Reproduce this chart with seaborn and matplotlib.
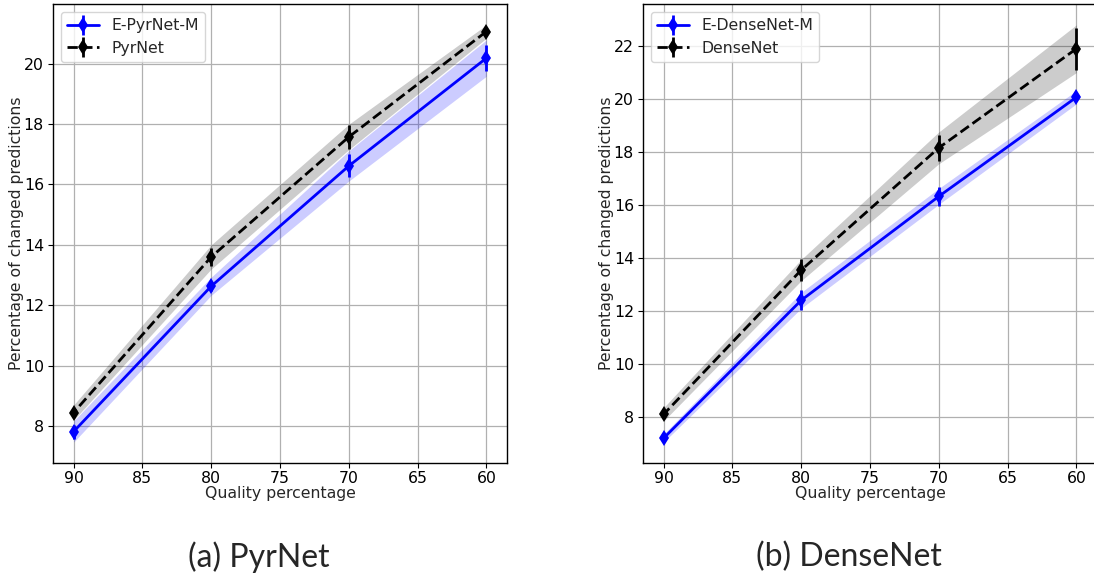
import numpy as np
import pandas as pd
import matplotlib
matplotlib.use("Agg")
import matplotlib.pyplot as plt
from matplotlib.legend_handler import HandlerTuple
from matplotlib.lines import Line2D
import seaborn as sns

# ---- data ----
quality = [90, 80, 70, 60]

pyr_e_mean = [7.82, 12.63, 16.61, 20.18]
pyr_e_err = [0.23, 0.15, 0.38, 0.44]
pyr_e_band = [0.35, 0.30, 0.50, 0.60]
pyr_mean = [8.45, 13.60, 17.57, 21.06]
pyr_err = [0.15, 0.30, 0.39, 0.12]
pyr_band = [0.25, 0.40, 0.42, 0.22]

den_e_mean = [7.22, 12.42, 16.34, 20.08]
den_e_err = [0.12, 0.38, 0.35, 0.12]
den_e_band = [0.15, 0.30, 0.30, 0.25]
den_mean = [8.12, 13.56, 18.17, 21.91]
den_err = [0.15, 0.42, 0.50, 0.80]
den_band = [0.25, 0.40, 0.60, 0.90]

panels = [
    ("E-PyrNet-M", pyr_e_mean, pyr_e_err, pyr_e_band,
     "PyrNet", pyr_mean, pyr_err, pyr_band, "(a) PyrNet"),
    ("E-DenseNet-M", den_e_mean, den_e_err, den_e_band,
     "DenseNet", den_mean, den_err, den_band, "(b) DenseNet"),
]

sns.set_style("ticks")
plt.rcParams["font.family"] = ["DejaVu Sans"]

fig = plt.figure(figsize=(10.94, 5.79), dpi=100)
axes_pos = [
    [53 / 1094, 1 - 463 / 579, 454 / 1094, 459 / 579],
    [643 / 1094, 1 - 463 / 579, 454 / 1094, 459 / 579],
]
caption_x = [259 / 1094, 849 / 1094]
FS = 11.3

for pos, cx, (lab1, m1, e1, b1, lab2, m2, e2, b2, cap) in zip(axes_pos, caption_x, panels):
    ax = fig.add_axes(pos)
    x = np.array(quality)
    m1a, e1a, b1a = map(np.array, (m1, e1, b1))
    m2a, e2a, b2a = map(np.array, (m2, e2, b2))

    ax.fill_between(x, m1a - b1a, m1a + b1a, color="blue", alpha=0.2, lw=0, zorder=1)
    ax.fill_between(x, m2a - b2a, m2a + b2a, color="black", alpha=0.2, lw=0, zorder=1)

    df1 = pd.DataFrame({"q": quality, "v": m1})
    df2 = pd.DataFrame({"q": quality, "v": m2})
    sns.lineplot(data=df1, x="q", y="v", ax=ax, color="blue", lw=2,
                 marker="d", markersize=8, markeredgewidth=0, legend=False, zorder=3)
    l1 = ax.lines[-1]
    sns.lineplot(data=df2, x="q", y="v", ax=ax, color="black", lw=2, linestyle="--",
                 marker="d", markersize=8, markeredgewidth=0, legend=False, zorder=3)
    l2 = ax.lines[-1]

    ax.errorbar(x, m1a, yerr=e1a, fmt="none", ecolor="blue",
                elinewidth=2, capsize=0, zorder=4)
    ax.errorbar(x, m2a, yerr=e2a, fmt="none", ecolor="black",
                elinewidth=2, capsize=0, zorder=4)

    ax.set_xlim(91.5, 58.5)
    ax.set_xticks([90, 85, 80, 75, 70, 65, 60])
    ax.grid(True, color="#b0b0b0", lw=0.9)
    ax.set_axisbelow(True)
    ax.tick_params(labelsize=FS, length=3.5, width=0.8, colors="black")
    ax.tick_params(axis="x", pad=2.5)
    ax.tick_params(axis="y", pad=3)
    for s in ax.spines.values():
        s.set_color("black")
        s.set_linewidth(1.0)
    ax.set_xlabel("Quality percentage", fontsize=FS)
    ax.set_ylabel("Percentage of changed predictions", fontsize=FS)
    ax.yaxis.set_label_coords(-0.063, 0.5)
    ax.xaxis.set_label_coords(0.5, -0.050)

    # legend proxies: line+marker overlaid with a vertical error stroke
    v1 = Line2D([], [], color="blue", lw=0, marker="|", markersize=14, markeredgewidth=2)
    v2 = Line2D([], [], color="black", lw=0, marker="|", markersize=14, markeredgewidth=2)
    ax.legend(handles=[(l1, v1), (l2, v2)], labels=[lab1, lab2], loc="upper left",
              fontsize=FS, frameon=True, framealpha=0.8, edgecolor="#cccccc",
              fancybox=True, handlelength=2.0, borderpad=0.4,
              handler_map={tuple: HandlerTuple(ndivide=1, pad=0)})

    fig.text(cx, 1 - 557 / 579, cap, ha="center", va="center", fontsize=23,
             family=["Lato", "DejaVu Sans"])

fig.savefig("out.png", dpi=100)
